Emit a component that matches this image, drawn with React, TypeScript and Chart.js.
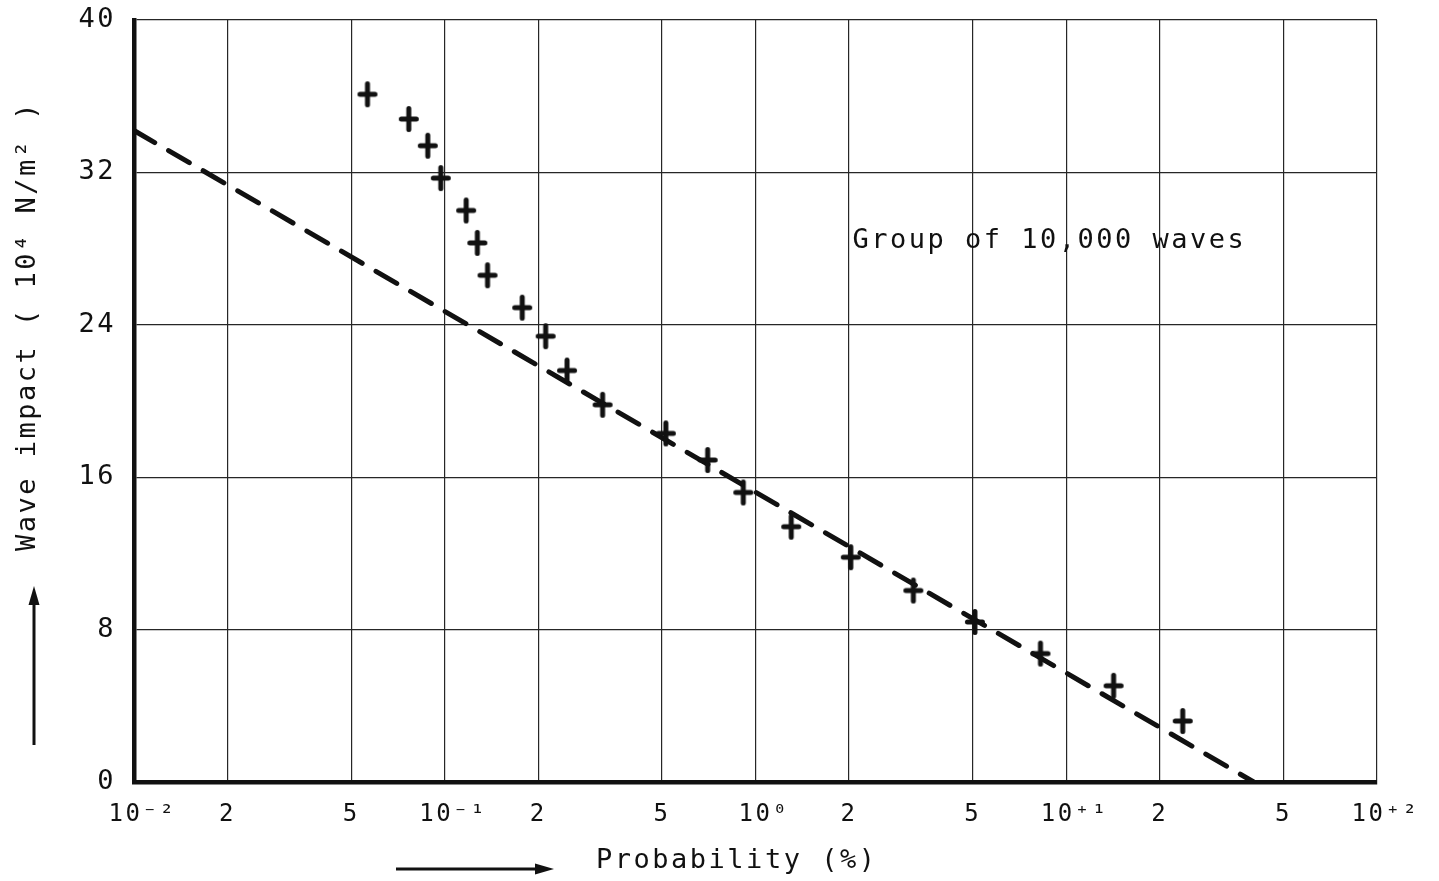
import React, { useEffect, useRef } from "react";
import { Chart, registerables } from "chart.js";

Chart.register(...registerables);

// ---- data ----
const xTickValues = [0.01, 0.02, 0.05, 0.1, 0.2, 0.5, 1, 2, 5, 10, 20, 50, 100];
const xTickLabels = ["10⁻²", "2", "5", "10⁻¹", "2", "5", "10⁰", "2", "5", "10⁺¹", "2", "5", "10⁺²"];
const yTickValues = [0, 8, 16, 24, 32, 40];

const probability = [
  0.0564, 0.0766, 0.0882, 0.0971, 0.1172, 0.1273, 0.1373, 0.1775, 0.2112, 0.2475, 0.322,
  0.5147, 0.7015, 0.9135, 1.303, 2.026, 3.221, 5.082, 8.26, 14.2, 23.7,
];
const waveImpact = [
  36.1, 34.8, 33.4, 31.7, 30.0, 28.3, 26.6, 24.9, 23.4, 21.6, 19.8,
  18.3, 16.9, 15.2, 13.4, 11.8, 10.05, 8.4, 6.74, 5.05, 3.2,
];

const fitProbability = [0.01, 40.1];
const fitImpact = [34.2, 0];

const annotationText = "Group of 10,000 waves";
const annotationAt = { x: 2.05, y: 28.4 };
const xTitle = "Probability (%)";
const yTitle = "Wave impact ( 10⁴ N/m² )";

// ---- style ----
const INK = "#111111";
const GRID = "#262626";
const FONT = '"DejaVu Sans Mono", "DejaVu Sans", monospace';
const SPACING = "2.5px";

function makeCross(): HTMLCanvasElement {
  const c = document.createElement("canvas");
  c.width = 22;
  c.height = 28;
  const g = c.getContext("2d")!;
  g.strokeStyle = INK;
  g.lineWidth = 5;
  g.lineCap = "round";
  g.beginPath();
  g.moveTo(11, 3.5);
  g.lineTo(11, 24.5);
  g.moveTo(3.5, 14);
  g.lineTo(18.5, 14);
  g.stroke();
  return c;
}

const decorPlugin = {
  id: "decor",
  beforeLayout(chart: any) {
    (chart.ctx as any).letterSpacing = SPACING;
  },
  beforeDraw(chart: any) {
    (chart.ctx as any).letterSpacing = SPACING;
  },
  afterDraw(chart: any) {
    const { ctx, scales } = chart;
    ctx.save();
    (ctx as any).letterSpacing = SPACING;
    ctx.fillStyle = INK;
    ctx.strokeStyle = INK;
    ctx.font = `27px ${FONT}`;
    ctx.textAlign = "left";
    ctx.textBaseline = "middle";
    ctx.fillText(
      annotationText,
      scales.x.getPixelForValue(annotationAt.x),
      scales.y.getPixelForValue(annotationAt.y)
    );

    // axis arrows
    ctx.lineWidth = 3;
    ctx.lineCap = "butt";
    // vertical arrow (y axis)
    ctx.beginPath();
    ctx.moveTo(34, 745);
    ctx.lineTo(34, 600);
    ctx.stroke();
    ctx.beginPath();
    ctx.moveTo(34, 586);
    ctx.lineTo(28.5, 605);
    ctx.lineTo(39.5, 605);
    ctx.closePath();
    ctx.fill();
    // horizontal arrow (x axis)
    ctx.beginPath();
    ctx.moveTo(396, 869);
    ctx.lineTo(540, 869);
    ctx.stroke();
    ctx.beginPath();
    ctx.moveTo(554, 869);
    ctx.lineTo(535, 863.5);
    ctx.lineTo(535, 874.5);
    ctx.closePath();
    ctx.fill();
    ctx.restore();
  },
};

export default function App() {
  const ref = useRef<HTMLCanvasElement | null>(null);

  useEffect(() => {
    if (!ref.current) return;
    const cross = makeCross();
    const chart = new Chart(ref.current, {
      type: "scatter",
      data: {
        datasets: [
          {
            label: "Measured",
            data: probability.map((p, i) => ({ x: p, y: waveImpact[i] })),
            pointStyle: cross as any,
            pointRadius: 10,
            showLine: false,
          },
          {
            label: "Fit",
            data: fitProbability.map((p, i) => ({ x: p, y: fitImpact[i] })),
            showLine: true,
            borderColor: INK,
            borderWidth: 5,
            borderDash: [24, 16],
            borderCapStyle: "round",
            pointRadius: 0,
            tension: 0,
          } as any,
        ],
      },
      options: {
        responsive: false,
        animation: false,
        layout: { padding: { top: 20, right: 62, bottom: 0, left: 0 } },
        plugins: { legend: { display: false }, tooltip: { enabled: false } },
        scales: {
          x: {
            type: "logarithmic",
            position: "bottom",
            min: 0.01,
            max: 100,
            afterBuildTicks: (s: any) => {
              s.ticks = xTickValues.map((v) => ({ value: v }));
            },
            afterFit: (s: any) => {
              s.height = 99;
              s.paddingLeft = 0;
              s.paddingRight = 0;
              s.paddingTop = 0;
              s.paddingBottom = 0;
            },
            ticks: {
              autoSkip: false,
              maxRotation: 0,
              minRotation: 0,
              padding: 18,
              color: INK,
              font: { family: FONT, size: 24 },
              callback: (_v: any, i: number) => {
                const l = xTickLabels[i] ?? "";
                return l.startsWith("10") ? " " + l : l;
              },
            },
            grid: { color: GRID, lineWidth: 1.2, drawTicks: false },
            border: { display: true, color: INK, width: 4.5 },
            title: {
              display: true,
              text: xTitle + "  ",
              color: INK,
              font: { family: FONT, size: 27 },
              padding: { top: 0, bottom: 4 },
            },
          } as any,
          y: {
            type: "linear",
            min: 0,
            max: 40,
            afterBuildTicks: (s: any) => {
              s.ticks = yTickValues.map((v) => ({ value: v }));
            },
            afterFit: (s: any) => {
              s.width = 134;
              s.paddingLeft = 0;
              s.paddingRight = 0;
              s.paddingTop = 0;
              s.paddingBottom = 0;
            },
            ticks: {
              padding: 18,
              color: INK,
              font: { family: FONT, size: 27 },
            },
            grid: { color: GRID, lineWidth: 1.2, drawTicks: false },
            border: { display: true, color: INK, width: 4.5 },
            title: {
              display: true,
              text: " ".repeat(8) + yTitle,
              color: INK,
              font: { family: FONT, size: 27 },
              padding: { top: 12, bottom: 0 },
            },
          } as any,
        },
      },
      plugins: [decorPlugin as any],
    });
    return () => chart.destroy();
  }, []);

  return (
    <div style={{ position: "absolute", left: 0, top: 0, width: 1439, height: 881, background: "#fff" }}>
      <canvas ref={ref} width={1439} height={881} style={{ display: "block" }} />
    </div>
  );
}
